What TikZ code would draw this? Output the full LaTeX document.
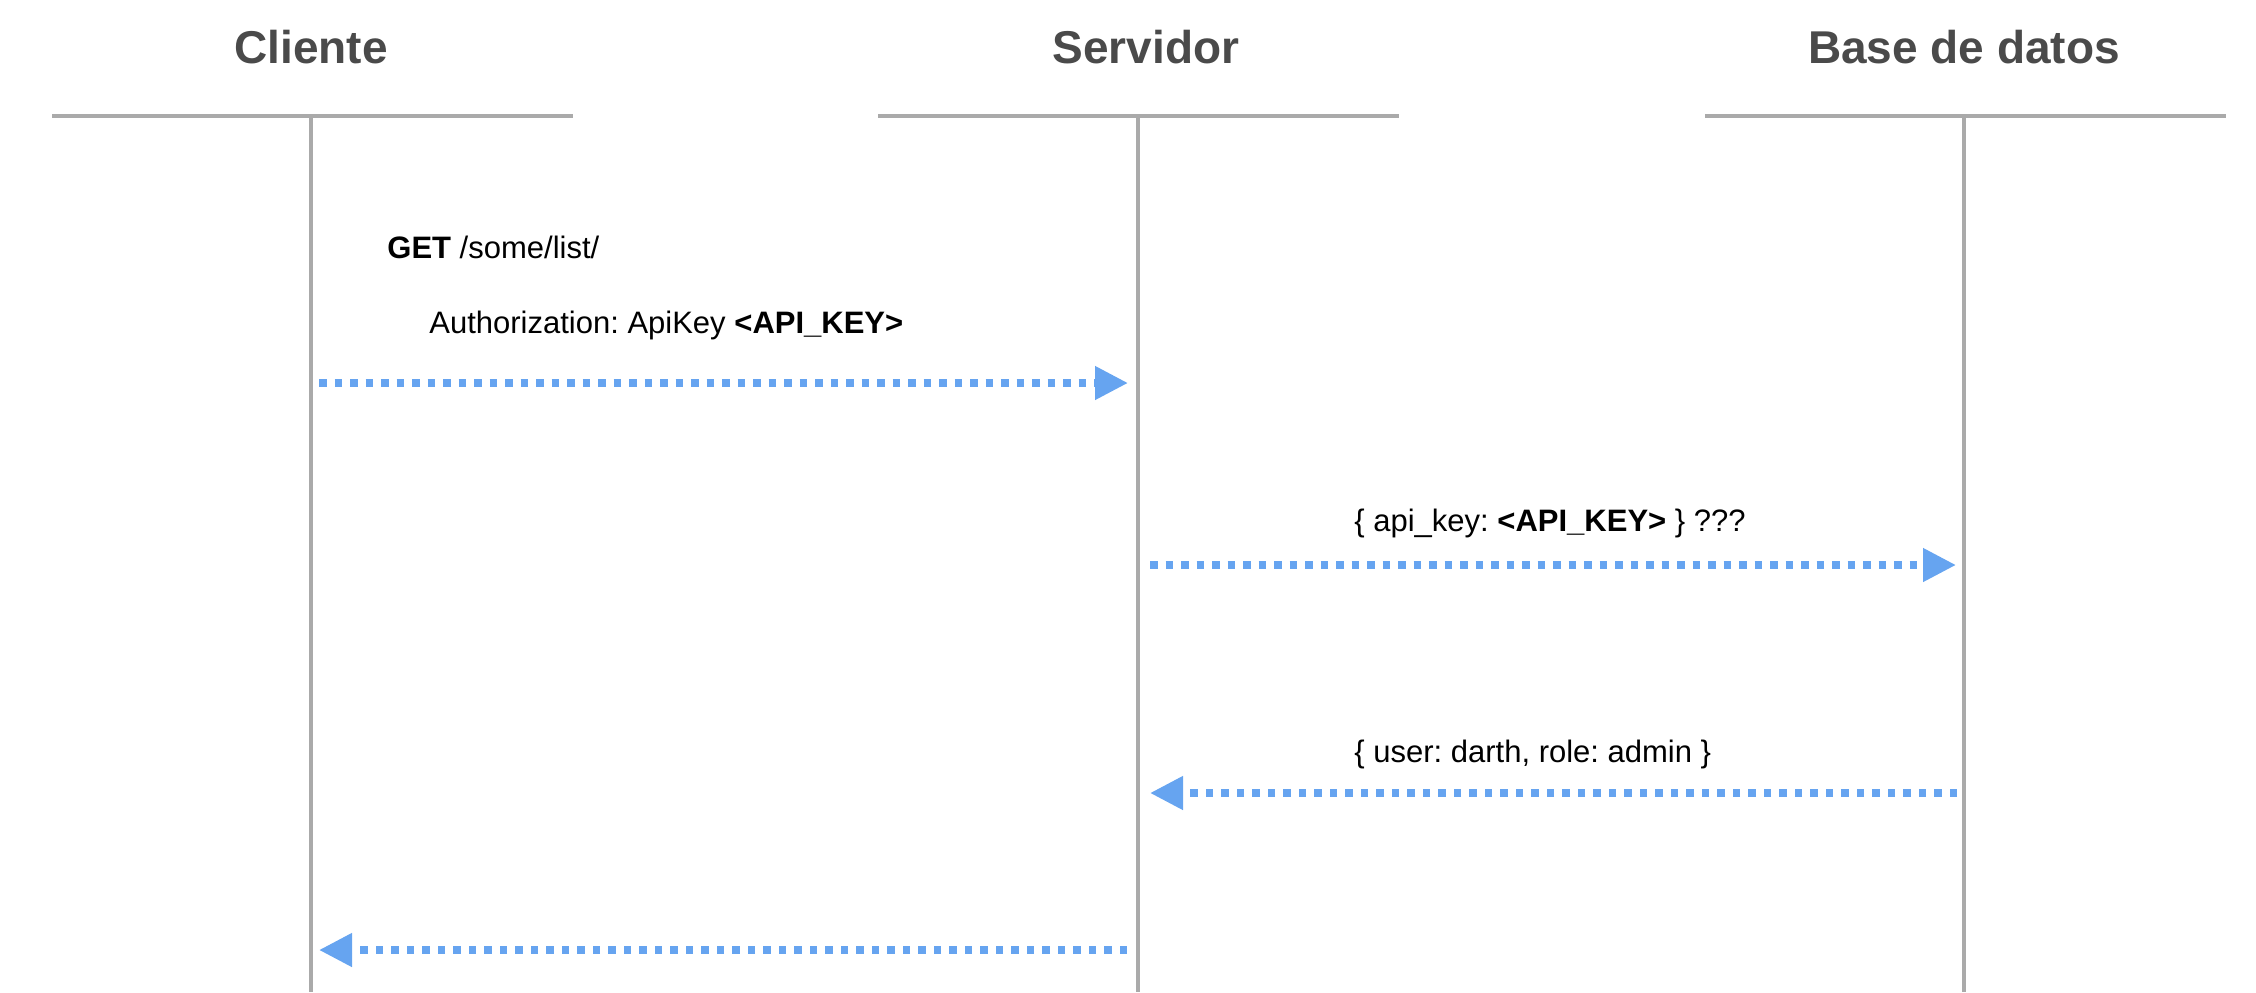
\documentclass[tikz,border=0pt]{standalone}
\usepackage{fontspec}
\setmainfont{Liberation Sans}
\usepackage{tikz}
\usetikzlibrary{arrows.meta}
\definecolor{lanegray}{RGB}{170,170,170}
\definecolor{msgblue}{RGB}{102,164,240}
\definecolor{headgray}{RGB}{74,74,74}
\frenchspacing
\begin{document}
\begin{tikzpicture}[x=0.5pt,y=0.5pt,yscale=-1,xscale=1,
  lane/.style={draw=lanegray,line width=1.7pt},
  headline/.style={draw=lanegray,line width=2pt},
  msg/.style={draw=msgblue,line width=3.75pt,dash pattern=on 3.75pt off 4pt,
    -{Triangle[length=16.5pt,width=16pt,fill=msgblue]}},
  head/.style={inner sep=0pt,anchor=base,text=headgray,font=\fontsize{23}{27}\selectfont\bfseries},
  lbl/.style={inner sep=0pt,anchor=base west,font=\fontsize{15.5}{18}\selectfont}]
\useasboundingbox (0,0) rectangle (2256,992);

% Text Node
\node[head] (cliente) at (311,63) {Cliente};
% Text Node
\node[head] (servidor) at (1146,63) {Servidor};
% Text Node
\node[head] (bd) at (1964,63) {Base de datos};

%Straight Lines: header bars
\coordinate (cliL) at (52,116); \coordinate (cliR) at (573,116);
\coordinate (srvL) at (878,116); \coordinate (srvR) at (1399,116);
\coordinate (bdL) at (1705,116); \coordinate (bdR) at (2226,116);
\draw[headline] (cliL) -- (cliR);
\draw[headline] (srvL) -- (srvR);
\draw[headline] (bdL) -- (bdR);

%Straight Lines: lifelines
\coordinate (cliTop) at (311,116); \coordinate (cliBot) at (311,992);
\coordinate (srvTop) at (1138,116); \coordinate (srvBot) at (1138,992);
\coordinate (bdTop) at (1964,116); \coordinate (bdBot) at (1964,992);
\draw[lane] (cliTop) -- (cliBot);
\draw[lane] (srvTop) -- (srvBot);
\draw[lane] (bdTop) -- (bdBot);

%Straight Lines: messages
\coordinate (m1a) at (319,383); \coordinate (m1b) at (1128,383);
\coordinate (m2a) at (1150,565); \coordinate (m2b) at (1956,565);
\coordinate (m3a) at (1957,793); \coordinate (m3b) at (1150,793);
\coordinate (m4a) at (1127,950); \coordinate (m4b) at (319,950);
\draw[msg] (m1a) -- (m1b);
\draw[msg] (m2a) -- (m2b);
\draw[msg] (m3a) -- (m3b);
\draw[msg] (m4a) -- (m4b);

% Text Node
\node[lbl] (get) at (387,258) {\textbf{GET} /some/list/};
% Text Node
\node[lbl] (auth) at (429,333) {Authorization: ApiKey \textbf{<API\_KEY>}};
% Text Node
\node[lbl] (query) at (1354,531) {\{ api\_key: \textbf{<API\_KEY>} \} ???};
% Text Node
\node[lbl] (reply) at (1354,762) {\{ user: darth, role: admin \}};

\end{tikzpicture}
\end{document}
